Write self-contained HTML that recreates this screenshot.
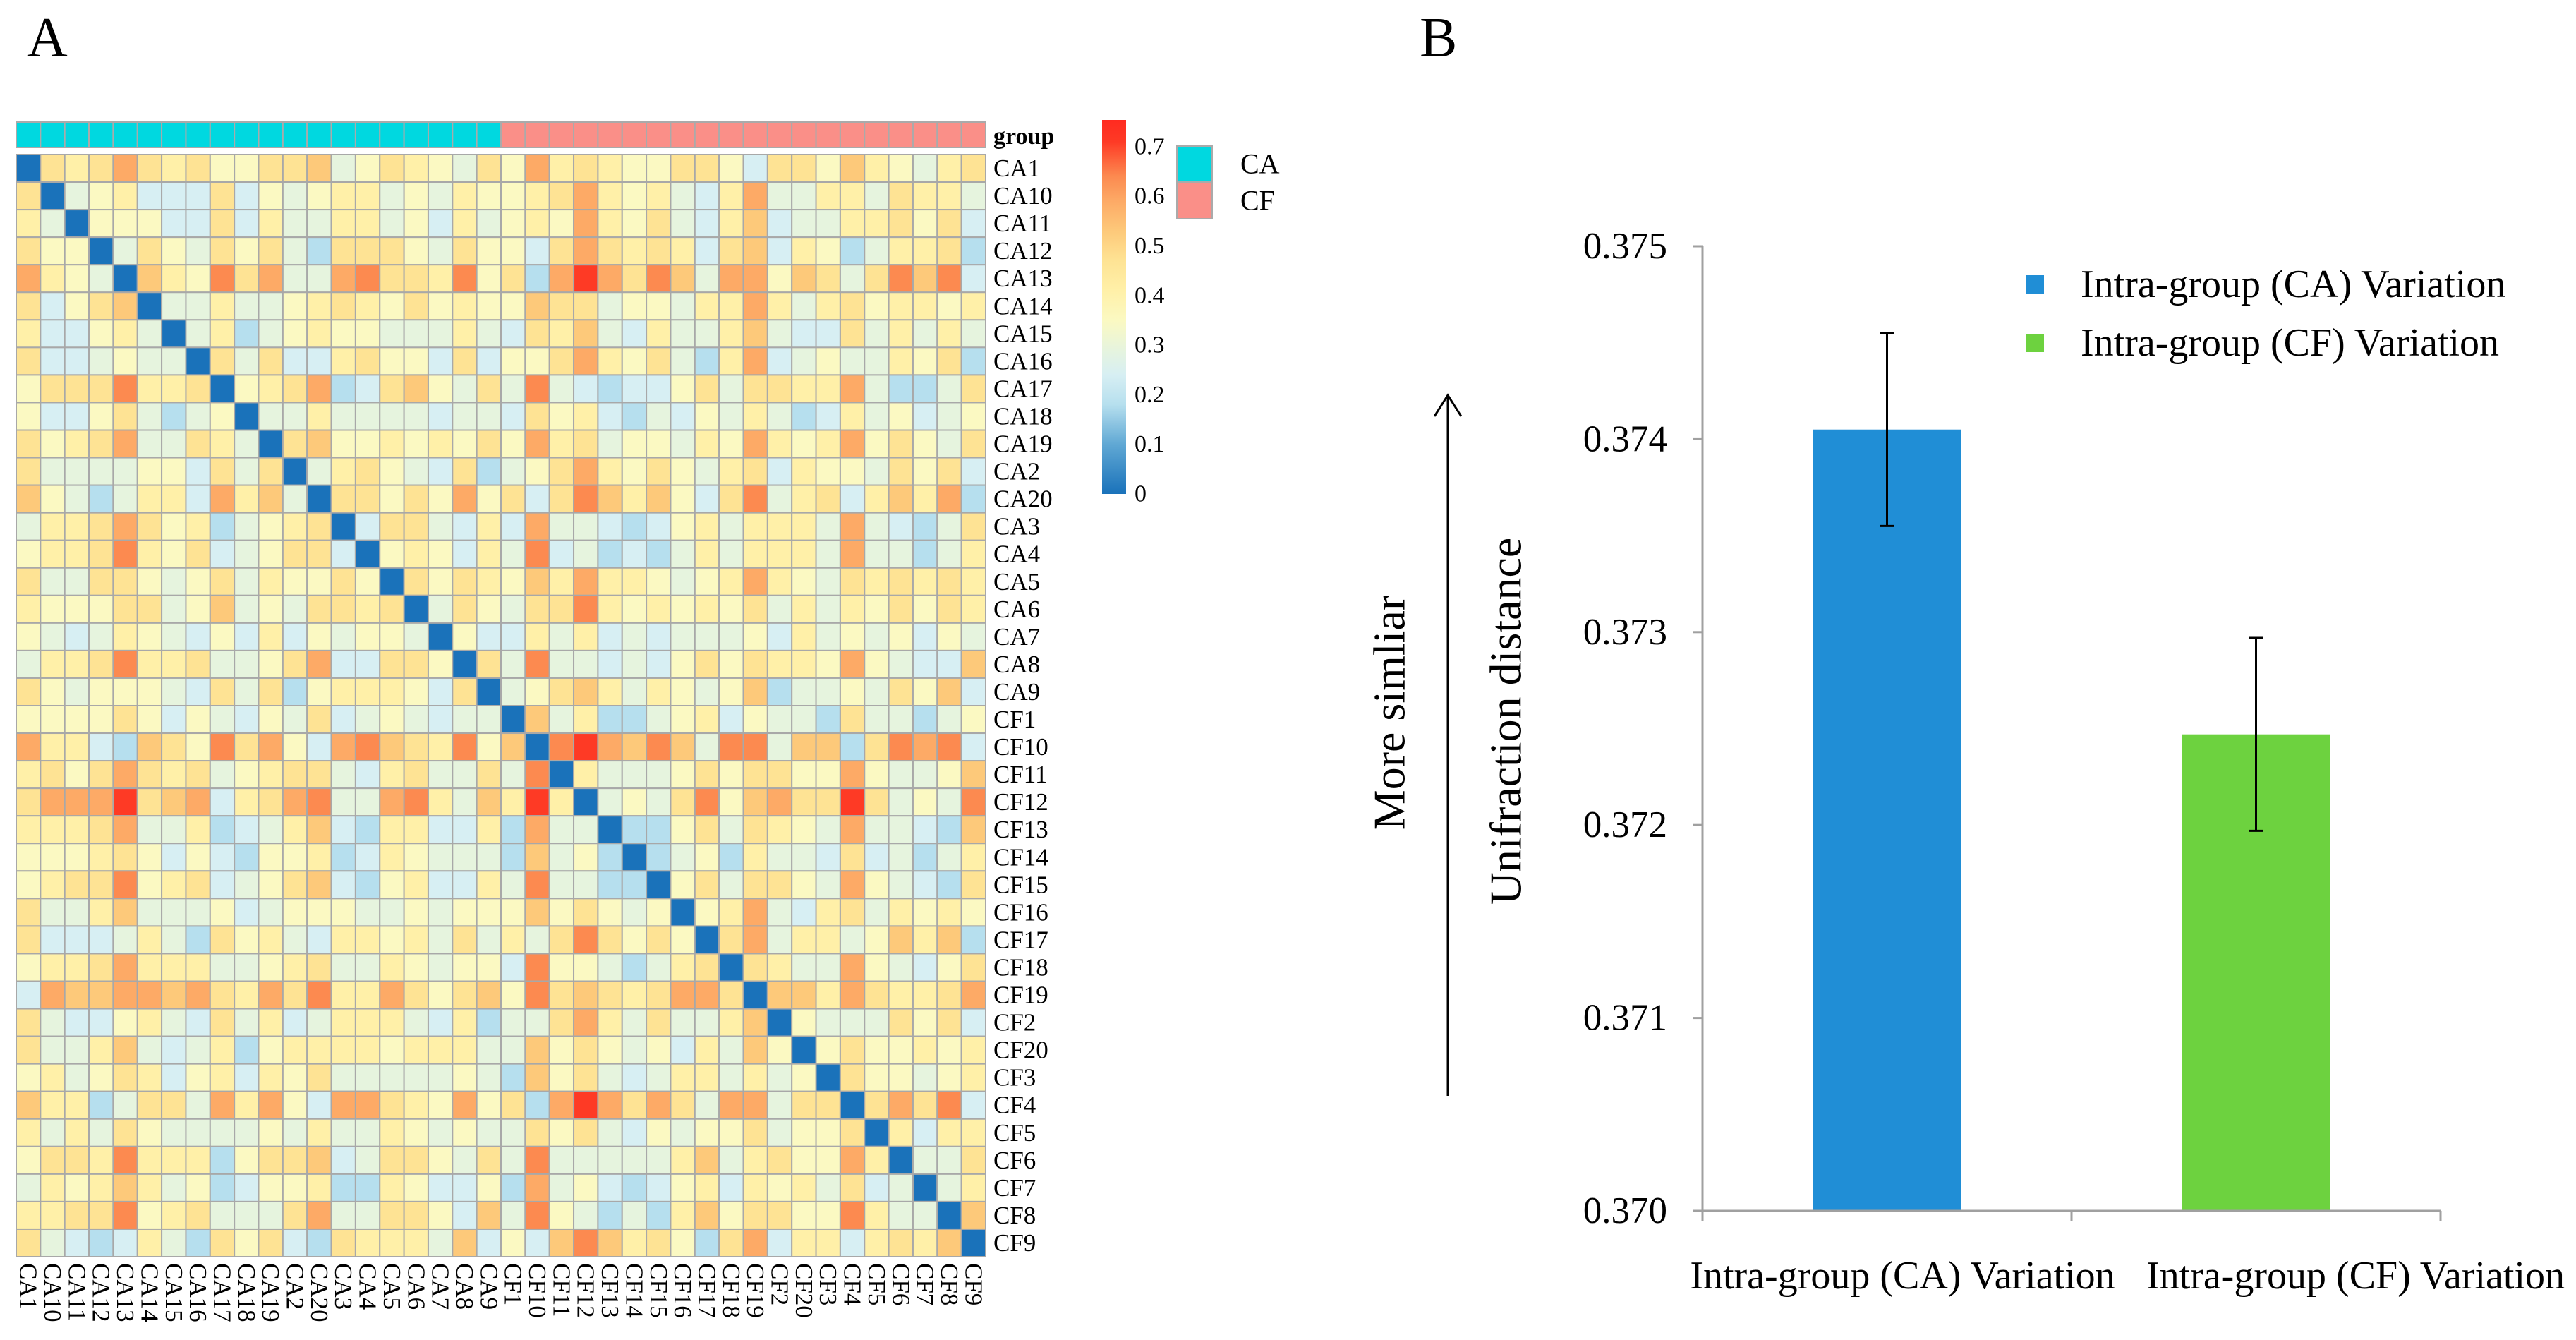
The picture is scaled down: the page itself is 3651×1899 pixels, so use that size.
<!DOCTYPE html>
<html><head><meta charset="utf-8">
<style>
html,body{margin:0;padding:0;background:#fff;}
svg{display:block;font-family:"Liberation Serif",serif;}
</style></head>
<body>
<svg id="fig" width="3651" height="1899" viewBox="0 0 3651 1899" xmlns="http://www.w3.org/2000/svg">
<rect width="3651" height="1899" fill="#fff"/>
<text x="38" y="80" font-size="80">A</text>
<text x="2012" y="80" font-size="80">B</text>
<g id="heat"></g>
<g id="bars"></g>
</svg>
<script>
// ---------- Heatmap data ----------
const samples = ["CA1","CA10","CA11","CA12","CA13","CA14","CA15","CA16","CA17","CA18","CA19","CA2","CA20","CA3","CA4","CA5","CA6","CA7","CA8","CA9","CF1","CF10","CF11","CF12","CF13","CF14","CF15","CF16","CF17","CF18","CF19","CF2","CF20","CF3","CF4","CF5","CF6","CF7","CF8","CF9"];
const groups = ["CA","CA","CA","CA","CA","CA","CA","CA","CA","CA","CA","CA","CA","CA","CA","CA","CA","CA","CA","CA","CF","CF","CF","CF","CF","CF","CF","CF","CF","CF","CF","CF","CF","CF","CF","CF","CF","CF","CF","CF"];
const colorTicks = [0,0.1,0.2,0.3,0.4,0.5,0.6,0.7];
// upper triangle distances: row i holds columns i+1..40
const upper = [
[.47,.41,.47,.59,.47,.41,.47,.35,.35,.47,.47,.53,.29,.35,.47,.41,.35,.29,.47,.35,.59,.41,.47,.41,.35,.35,.47,.47,.35,.24,.47,.47,.35,.53,.41,.35,.29,.41,.47],
[.29,.35,.41,.24,.24,.24,.47,.24,.35,.29,.35,.41,.41,.29,.35,.29,.41,.35,.35,.41,.47,.59,.41,.35,.41,.29,.24,.41,.59,.29,.29,.41,.41,.29,.47,.41,.41,.29],
[.35,.35,.35,.24,.24,.47,.24,.41,.29,.29,.41,.41,.29,.35,.24,.41,.29,.35,.41,.35,.59,.41,.35,.47,.29,.24,.41,.53,.24,.29,.29,.41,.41,.47,.35,.47,.24],
[.29,.47,.35,.29,.47,.35,.47,.29,.18,.47,.47,.47,.35,.29,.47,.35,.35,.24,.47,.59,.47,.41,.47,.41,.24,.47,.53,.24,.41,.35,.18,.29,.41,.41,.47,.18],
[.53,.41,.35,.64,.47,.59,.29,.29,.59,.64,.47,.47,.41,.64,.35,.47,.18,.59,.71,.59,.47,.64,.53,.29,.59,.59,.35,.53,.47,.29,.47,.64,.53,.64,.24],
[.29,.29,.41,.29,.29,.35,.41,.47,.41,.35,.47,.35,.41,.35,.35,.53,.47,.47,.29,.35,.35,.29,.41,.41,.59,.41,.29,.41,.47,.35,.41,.41,.35,.41],
[.29,.41,.18,.29,.35,.41,.35,.35,.29,.29,.29,.41,.29,.24,.47,.41,.53,.29,.24,.41,.29,.29,.41,.53,.29,.24,.24,.47,.29,.41,.29,.41,.29],
[.47,.29,.47,.24,.24,.41,.47,.35,.35,.24,.47,.24,.35,.35,.47,.59,.41,.35,.47,.29,.18,.41,.59,.24,.29,.35,.29,.29,.41,.35,.47,.18],
[.35,.41,.47,.59,.18,.24,.47,.53,.35,.29,.47,.29,.64,.29,.24,.18,.24,.24,.35,.47,.29,.47,.47,.41,.41,.59,.29,.18,.18,.29,.47],
[.29,.29,.41,.29,.29,.29,.29,.24,.29,.29,.24,.47,.35,.41,.24,.18,.29,.24,.35,.29,.41,.29,.18,.24,.41,.29,.35,.24,.29,.35],
[.47,.53,.35,.35,.41,.35,.41,.35,.47,.35,.59,.41,.47,.29,.35,.35,.29,.41,.35,.59,.41,.35,.41,.59,.35,.47,.35,.29,.47],
[.29,.41,.47,.35,.29,.24,.47,.18,.29,.35,.47,.59,.41,.35,.47,.35,.29,.41,.47,.24,.41,.35,.35,.29,.47,.35,.47,.24],
[.47,.47,.35,.47,.35,.59,.35,.47,.24,.47,.64,.53,.41,.53,.35,.24,.47,.64,.29,.41,.47,.24,.41,.53,.41,.59,.18],
[.24,.47,.47,.29,.24,.41,.24,.59,.29,.29,.24,.18,.24,.35,.41,.29,.41,.41,.41,.29,.59,.29,.24,.18,.29,.47],
[.35,.41,.35,.24,.41,.29,.64,.24,.29,.18,.24,.18,.29,.41,.29,.41,.41,.41,.29,.59,.29,.29,.18,.29,.41],
[.47,.35,.47,.41,.35,.53,.41,.59,.41,.41,.35,.29,.35,.41,.59,.41,.35,.29,.47,.41,.47,.41,.47,.41],
[.29,.47,.35,.29,.47,.47,.64,.41,.35,.41,.35,.41,.35,.47,.29,.41,.29,.41,.35,.47,.35,.47,.41],
[.35,.24,.24,.41,.29,.41,.24,.29,.24,.29,.29,.29,.35,.24,.41,.29,.35,.29,.35,.24,.35,.29],
[.47,.29,.64,.29,.29,.24,.29,.24,.35,.47,.35,.47,.41,.41,.35,.59,.35,.29,.24,.24,.53],
[.29,.35,.47,.53,.41,.29,.41,.35,.29,.35,.53,.18,.29,.29,.35,.29,.47,.35,.53,.24],
[.53,.29,.41,.18,.18,.29,.35,.41,.24,.35,.29,.29,.18,.47,.29,.29,.18,.29,.35],
[.64,.71,.59,.53,.64,.53,.29,.64,.64,.29,.53,.53,.18,.47,.64,.59,.64,.24],
[.41,.29,.29,.29,.35,.47,.35,.47,.47,.35,.35,.59,.35,.29,.29,.35,.53],
[.29,.35,.29,.47,.64,.35,.53,.59,.47,.47,.71,.47,.29,.35,.29,.64],
[.18,.18,.35,.47,.29,.47,.41,.35,.29,.59,.29,.29,.24,.18,.53],
[.18,.29,.35,.18,.41,.29,.29,.24,.47,.24,.29,.18,.29,.41],
[.35,.47,.29,.47,.47,.35,.29,.59,.35,.29,.24,.18,.47],
[.35,.41,.59,.29,.24,.41,.47,.29,.41,.35,.41,.35],
[.47,.59,.29,.41,.41,.29,.35,.53,.41,.53,.18],
[.47,.41,.29,.29,.59,.35,.29,.24,.35,.47],
[.53,.53,.41,.59,.47,.41,.41,.47,.59],
[.35,.29,.29,.29,.47,.35,.47,.24],
[.35,.47,.35,.35,.41,.35,.41],
[.47,.35,.35,.29,.35,.41],
[.47,.59,.47,.64,.24],
[.41,.24,.41,.41],
[.29,.29,.47],
[.29,.41],
[.53],
[]
];
// ---------- Bar chart data ----------
const barCategories = ["Intra-group (CA) Variation","Intra-group (CF) Variation"];
const barValues = [0.37405, 0.37247];
const barErrors = [0.00050, 0.00050];
const yTicks = [0.370,0.371,0.372,0.373,0.374,0.375];
const barColors = ["#208ed6","#6dd23f"];

const NS="http://www.w3.org/2000/svg";
function mk(tag,attrs,parent){const e=document.createElementNS(NS,tag);for(const k in attrs)e.setAttribute(k,attrs[k]);parent.appendChild(e);return e;}

const stops=[[0,"#1a72ba"],[.1,"#60a8d4"],[.18,"#b6dfee"],[.24,"#d7eff3"],[.29,"#e6f4de"],[.35,"#fbf9c2"],[.41,"#fff0a8"],[.47,"#fee394"],[.53,"#fdc97a"],[.59,"#fdaa66"],[.64,"#fc8a50"],[.71,"#fe3a25"],[.76,"#ff2a20"]];
function hex(h){return [parseInt(h.substr(1,2),16),parseInt(h.substr(3,2),16),parseInt(h.substr(5,2),16)];}
function color(v){
  if(v<=stops[0][0])return stops[0][1];
  for(let i=1;i<stops.length;i++){
    if(v<=stops[i][0]){const a=hex(stops[i-1][1]),b=hex(stops[i][1]);const t=(v-stops[i-1][0])/(stops[i][0]-stops[i-1][0]);
      return "rgb("+a.map((c,j)=>Math.round(c+(b[j]-c)*t)).join(",")+")";}
  }
  return stops[stops.length-1][1];
}
const N=samples.length;
function val(i,j){if(i===j)return 0;if(i>j){const t=i;i=j;j=t;}const r=upper[i];const v=r?r[j-i-1]:undefined;return v===undefined?0.35:v;}

const hx0=23,hx1=1397,hy0=219,hy1=1781;
const cw=(hx1-hx0)/N, ch=(hy1-hy0)/N;
const xPos=j=>hx0+j*cw, yPos=i=>hy0+i*ch;
const heat=document.getElementById('heat');

for(let j=0;j<N;j++){
  const r=mk('rect',{x:xPos(j),y:173,width:cw,height:36,fill:groups[j]==="CA"?"#00d8e0":"#fa8f88",stroke:"#aaa","stroke-width":2},heat);
  
  
}
const gl=mk('text',{x:1408,y:204,"font-size":34,"font-weight":"bold"},heat);gl.textContent="group";



for(let i=0;i<N;i++){
  for(let j=0;j<N;j++){
    const r=mk('rect',{x:xPos(j),y:yPos(i),width:cw,height:ch,fill:color(val(i,j)),stroke:"#a8a8a8","stroke-width":2},heat);
    
    
  }
}
for(let i=0;i<N;i++){
  const t=mk('text',{x:1408,y:yPos(i)+ch/2,"font-size":35,"dominant-baseline":"central"},heat);t.textContent=samples[i];
  
  
}
for(let j=0;j<N;j++){
  const cx=xPos(j)+cw/2;
  const t=mk('text',{x:cx,y:1790,"font-size":35,"dominant-baseline":"central",transform:"rotate(90 "+cx+" 1790)"},heat);t.textContent=samples[j];
  
  
}
const cbTop=170,cbBot=700,cbX=1562,cbW=34;
const cbMax=(cbBot-cbTop)/703;
const defs=mk('defs',{},heat);
const lg=mk('linearGradient',{id:"cbg",x1:0,y1:1,x2:0,y2:0},defs);
stops.forEach(s=>{if(s[0]<=cbMax+0.01)mk('stop',{offset:Math.min(1,s[0]/cbMax),"stop-color":s[1]},lg);});
const cb=mk('rect',{x:cbX,y:cbTop,width:cbW,height:cbBot-cbTop,fill:"url(#cbg)"},heat);


colorTicks.forEach(v=>{
  const y=cbBot-v*703;
  const t=mk('text',{x:1608,y:y,"font-size":34,"dominant-baseline":"central"},heat);t.textContent=String(v);
  
  
});
const lca=mk('rect',{x:1668,y:207,width:50,height:51,fill:"#00d8e0",stroke:"#aaa","stroke-width":2},heat);


const lcf=mk('rect',{x:1668,y:258,width:50,height:52,fill:"#fa8f88",stroke:"#aaa","stroke-width":2},heat);


const tca=mk('text',{x:1758,y:232,"font-size":40,"dominant-baseline":"central"},heat);tca.textContent="CA";


const tcf=mk('text',{x:1758,y:284,"font-size":40,"dominant-baseline":"central"},heat);tcf.textContent="CF";



// ---------- Bar chart ----------
const bars=document.getElementById('bars');
const ax0=2413, ax1=3459, ayTop=349, ayBot=1716;
const yMin=0.370,yMax=0.375;
const yS=v=>ayBot-(v-yMin)/(yMax-yMin)*(ayBot-ayTop);
const band=(ax1-ax0)/barCategories.length;
const xC=i=>ax0+band*(i+0.5);
const bw=209;
const labelShift=[22,141];
const yl=mk('line',{x1:ax0,y1:ayTop,x2:ax0,y2:ayBot,stroke:"#a0a0a0","stroke-width":3},bars);


yTicks.forEach(v=>{
  const y=yS(v);
  mk('line',{x1:ax0-14,y1:y,x2:ax0,y2:y,stroke:"#a0a0a0","stroke-width":3},bars);
  const t=mk('text',{x:2363,y:y,"font-size":53,"text-anchor":"end","dominant-baseline":"central"},bars);t.textContent=v.toFixed(3);
  
  
});
barCategories.forEach((c,i)=>{
  const x=xC(i);
  const r=mk('rect',{x:x-bw/2,y:yS(barValues[i]),width:bw,height:ayBot-yS(barValues[i]),fill:barColors[i]},bars);
  
  
  const hi=yS(barValues[i]+barErrors[i]), lo=yS(barValues[i]-barErrors[i]);
  const eb=mk('path',{d:`M${x} ${hi}V${lo}M${x-10} ${hi}H${x+10}M${x-10} ${lo}H${x+10}`,stroke:"#000","stroke-width":3,fill:"none"},bars);
  
  
  const t=mk('text',{x:x+labelShift[i],y:1826,"font-size":56,"text-anchor":"middle"},bars);t.textContent=c;
  
  
});
const xl=mk('line',{x1:ax0,y1:ayBot,x2:ax1,y2:ayBot,stroke:"#a0a0a0","stroke-width":3},bars);


[ax0,ax0+band,ax1].forEach(x=>mk('line',{x1:x,y1:ayBot,x2:x,y2:ayBot+14,stroke:"#a0a0a0","stroke-width":3},bars));
barCategories.forEach((c,i)=>{
  const y=403+i*83;
  const s=mk('rect',{x:2871,y:y-13,width:26,height:26,fill:barColors[i]},bars);
  
  
  const t=mk('text',{x:2949,y:y,"font-size":56,"dominant-baseline":"central"},bars);t.textContent=c;
  
  
});
const yt=mk('text',{x:2134,y:1022,"font-size":64,"text-anchor":"middle","dominant-baseline":"central",transform:"rotate(-90 2134 1022)"},bars);yt.textContent="Unifraction distance";


const ms=mk('text',{x:1969,y:1010,"font-size":64,"text-anchor":"middle","dominant-baseline":"central",transform:"rotate(-90 1969 1010)"},bars);ms.textContent="More simliar";


const ar=mk('path',{d:"M2052 1553V560M2033 590L2052 560L2071 590",stroke:"#000","stroke-width":3,fill:"none"},bars);


</script>
</body></html>
